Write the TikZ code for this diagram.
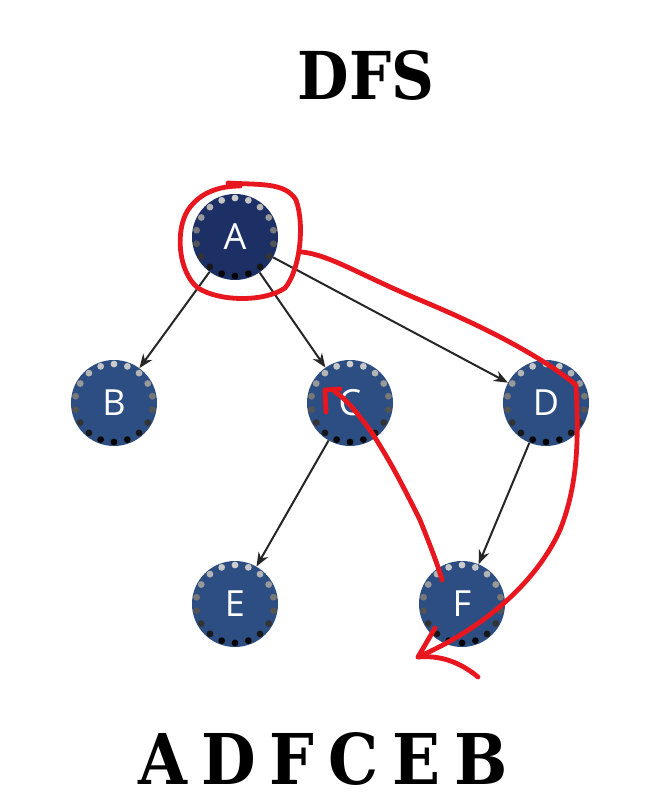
\documentclass[tikz,border=0pt]{standalone}
\usepackage{fontspec}
\setmainfont{DejaVu Serif Condensed}
\newfontfamily\labelfont{Open Sans}
\usetikzlibrary{arrows.meta}
\definecolor{navyA}{RGB}{28,48,102}
\definecolor{navyB}{RGB}{45,78,130}
\definecolor{penred}{RGB}{232,22,30}
\tikzset{
  vert/.style={circle, minimum size=86pt, inner sep=0pt, fill=navyB, text=white, font=\labelfont\fontsize{36}{36}\selectfont},
  vertA/.style={vert, fill=navyA},
  edge/.style={-{Stealth[length=14pt,width=11pt]}, line width=2pt, black!85},
  pen/.style={penred, line width=4.8pt, line cap=round, line join=round},
}
\newcommand{\dotring}[1]{%
  \foreach \ang in {0,20,...,340}{%
    \pgfmathsetmacro{\shade}{60-40*sin(\ang+10)}%
    \fill[black!\shade] (#1) ++(\ang+10:39pt) circle (3.4pt);
  }}
\begin{document}
\begin{tikzpicture}[x=1pt,y=-1pt]
\useasboundingbox (0,0) rectangle (659,811);
\fill[white] (0,0) rectangle (659,811);
\node[font=\bfseries\fontsize{66}{66}\selectfont] (title) at (366,75) {DFS};
\node[vertA] (A) at (235,237) {A};
\node[vert] (B) at (114,403) {B};
\node[vert] (C) at (350,403) {C};
\node[vert] (D) at (546,403) {D};
\node[vert] (E) at (235,604) {E};
\node[vert] (F) at (462,604) {F};
\foreach \n in {A,B,C,D,E,F}{\dotring{\n}}
\draw[edge] (A) -- (B);
\draw[edge] (A) -- (C);
\draw[edge] (A) -- (D);
\draw[edge] (C) -- (E);
\draw[edge] (D) -- (F);
\node[font=\bfseries\fontsize{70}{70}\selectfont] (order) at (323,759) {A\hspace{14pt}D\hspace{14pt}F\hspace{14pt}C\hspace{14pt}E\hspace{14pt}B};
% red annotations
\draw[pen] (228,183) .. controls (260,185) and (285,182) .. (296,200)
  .. controls (305,225) and (300,270) .. (285,288)
  .. controls (265,302) and (220,302) .. (198,288)
  .. controls (178,272) and (175,230) .. (188,210)
  .. controls (200,192) and (220,186) .. (240,186);
\coordinate (tip) at (418,657);
\draw[pen] (302,252) .. controls (330,255) and (360,275) .. (420,300)
  .. controls (480,325) and (540,355) .. (576,385)
  .. controls (578,430) and (580,480) .. (560,530)
  .. controls (535,585) and (480,630) .. (tip);
\draw[pen] (435,628) -- (tip) .. controls (440,655) and (460,662) .. (478,677);
\draw[pen] (442,580) .. controls (438,565) and (428,540) .. (420,520)
  .. controls (405,490) and (390,460) .. (370,430)
  .. controls (355,410) and (345,398) .. (335,392);
\draw[pen] (326,412) -- (325,390) -- (340,389);
\end{tikzpicture}
\end{document}
